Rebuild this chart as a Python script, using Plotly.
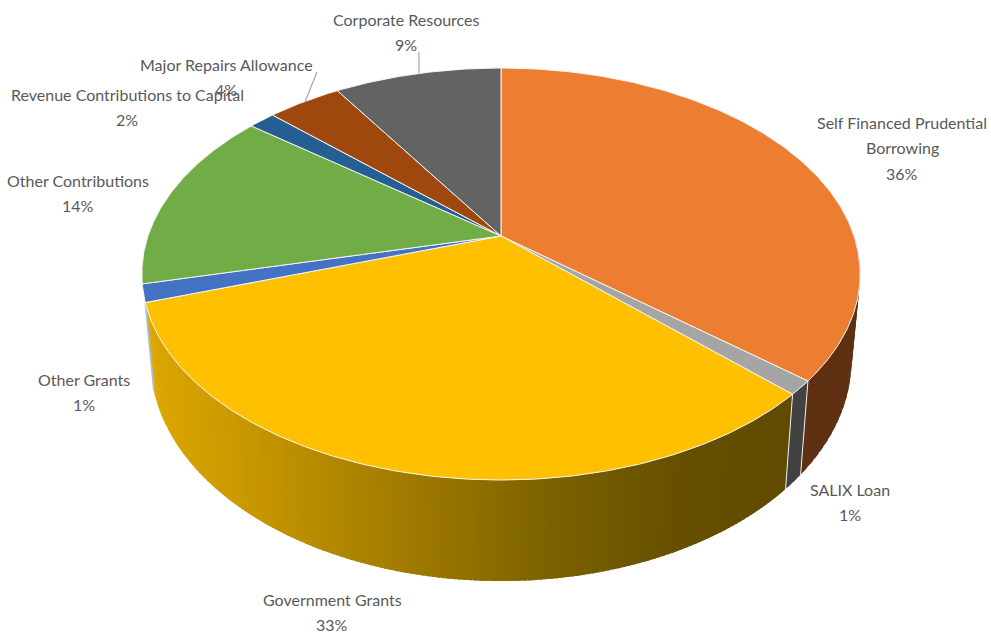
import numpy as np
import plotly.graph_objects as go

# --- data (percent shares, clockwise from 12 o'clock)
categories = ["Self Financed Prudential Borrowing", "SALIX Loan", "Government Grants", "Other Grants",
              "Other Contributions", "Revenue Contributions to Capital", "Major Repairs Allowance",
              "Corporate Resources"]
shares = [36.1, 1.1, 32.7, 1.4, 14.26, 1.44, 4, 9]
shown_pct = ["36%", "1%", "33%", "1%", "14%", "2%", "4%", "9%"]
label_lines = [["Self Financed Prudential", "Borrowing"], ["SALIX Loan"], ["Government Grants"], ["Other Grants"],
               ["Other Contributions"], ["Revenue Contributions to Capital"], ["Major Repairs Allowance"],
               ["Corporate Resources"]]

# --- style / layout
top_colors = ["#ED7D31", "#A5A5A5", "#FFC000", "#4472C4", "#70AD47", "#255E91", "#9E480E", "#636363"]
wall_colors = ["#5F3012", "#424242", None, "#A9BFE3", None, None, None, None]
label_x = [902, 850, 332, 84, 78, 127, 226, 406]
label_y = [122, 489, 599, 379, 180, 94, 64, 19]
line_gap = 25.6
TEXT = "#595959"
FONT = "Lato"
FSIZE = 16
LEADERS = [((317, 72), (305, 102)), ((419, 52), (419, 73))]

# projection of the pie's unit circle to the page
CX, CY, RX, RY, PERSP = 501, 236, 353, 199, 0.1845


def top_pt(theta):
    u, v = np.sin(theta), np.cos(theta)
    d = 1 + PERSP * v
    return CX + RX * u / d, CY - RY * v / d


def low_pt(theta):
    x, y = top_pt(theta)
    return CX + 0.976 * (x - CX), 1.0734 * y + 65.8


def gold(x):
    xs = [147, 230, 550, 680, 787]
    r = np.interp(x, xs, [220, 204, 125, 102, 96])
    g = np.interp(x, xs, [166, 154, 98, 80, 75])
    return f"rgb({r:.0f},{g:.0f},0)"


edges = np.cumsum([0] + shares) / sum(shares) * 2 * np.pi
fig = go.Figure()


def strips(t0, t1, n, color_fn):
    gt = np.linspace(t0, t1, n + 1)
    step = gt[1] - gt[0]
    for a in gt[:-1][::-1]:
        th = np.array([a, min(a + step * 1.6, t1)])
        tx, ty = top_pt(th)
        lx, ly = low_pt(th)
        fig.add_trace(go.Scatter(x=np.r_[tx, lx[::-1], tx[0]], y=np.r_[ty, ly[::-1], ty[0]], mode="lines",
                                 fill="toself", fillcolor=color_fn(tx.mean()), line=dict(width=0),
                                 hoverinfo="skip", showlegend=False))


def edge_line(theta, color="#EDEDED", w=1.0):
    tx, ty = top_pt(theta)
    lx, ly = low_pt(theta)
    fig.add_trace(go.Scatter(x=[tx, lx], y=[ty, ly], mode="lines", line=dict(color=color, width=w),
                             hoverinfo="skip", showlegend=False))


# side walls
strips(np.pi * 0.42, edges[1], 30, lambda x: wall_colors[0])
strips(edges[1], edges[2], 3, lambda x: wall_colors[1])
strips(edges[2], edges[3], 160, gold)
edge_line(edges[1])
edge_line(edges[2])
edge_line(edges[3], wall_colors[3], 1.6)

# top face
for i, name in enumerate(categories):
    th = np.linspace(edges[i], edges[i + 1], max(6, int(shares[i] * 6)))
    x, y = top_pt(th)
    fig.add_trace(go.Scatter(x=np.r_[CX, x, CX], y=np.r_[CY, y, CY], mode="lines", fill="toself",
                             fillcolor=top_colors[i], line=dict(color="#F4F4F4", width=1.0),
                             name=name, hoverinfo="name", showlegend=False))

# leader lines
for (p, q) in LEADERS:
    fig.add_trace(go.Scatter(x=[p[0], q[0]], y=[p[1], q[1]], mode="lines", line=dict(color="#A6A6A6", width=1.2),
                             hoverinfo="skip", showlegend=False))

# labels
ann = []
for i in range(len(categories)):
    for j, txt in enumerate(label_lines[i] + [shown_pct[i]]):
        ann.append(dict(x=label_x[i], y=label_y[i] + j * line_gap, text=txt, showarrow=False, xanchor="center",
                        yanchor="middle", font=dict(family=FONT, size=FSIZE, color=TEXT)))

fig.update_layout(width=991, height=634, margin=dict(l=0, r=0, t=0, b=0), paper_bgcolor="white", plot_bgcolor="white",
                  xaxis=dict(range=[0, 991], visible=False, fixedrange=True),
                  yaxis=dict(range=[634, 0], visible=False, fixedrange=True),
                  annotations=ann, showlegend=False)
fig.write_html("out.html", config=dict(displayModeBar=False), post_script="document.body.style.margin='0';")
